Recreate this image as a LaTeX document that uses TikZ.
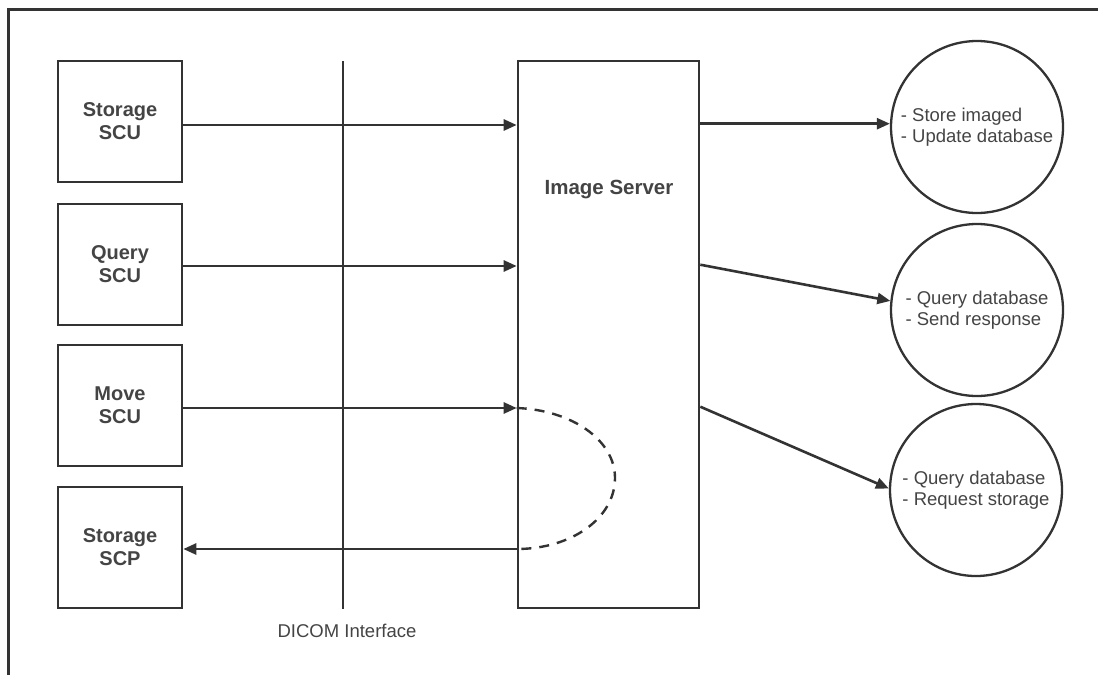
\documentclass[tikz,border=0pt]{standalone}
\usepackage{fontspec}
\setmainfont{Liberation Sans}
\usetikzlibrary{arrows.meta,calc}
\definecolor{ln}{HTML}{333333}
\definecolor{tx}{HTML}{444444}
\begin{document}
\begin{tikzpicture}[x=1pt,y=-1pt,
  unit/.style={draw=ln, line width=2.6pt, minimum width=124pt, minimum height=121pt, inner sep=0pt,
    font=\bfseries\fontsize{20}{23}\selectfont, text=tx, align=center},
  server/.style={draw=ln, line width=2.6pt, minimum width=181pt, minimum height=547pt, inner sep=0pt},
  proc/.style={circle, draw=ln, line width=2.3pt, minimum size=172pt, inner sep=0pt,
    font=\fontsize{18.5}{21.5}\selectfont, text=tx, align=left},
  lbl/.style={text=tx, inner sep=0pt},
  link/.style={draw=ln, line width=2.6pt, -{Triangle[length=13pt,width=11pt]}},
  ret/.style={draw=ln, line width=2.4pt, dash pattern=on 10pt off 8pt}
]
\useasboundingbox (0,0) rectangle (1098,675);
% frame
\draw[ln, line width=3pt] (1098,9) -- (8,9) -- (8,675);
% left units
\node[unit] (scu1) at (120,121.5) {Storage\\SCU};
\node[unit] (qscu) at (120,264.5) {Query\\SCU};
\node[unit] (mscu) at (120,405.5) {Move\\SCU};
\node[unit] (scp)  at (120,547.5) {Storage\\SCP};
% image server
\node[server] (srv) at (608.5,334.5) {};
\node[lbl, font=\bfseries\fontsize{20.5}{23}\selectfont] (srvlbl) at (609,190) {Image Server};
% DICOM interface line
\coordinate (dtop) at (343,61);
\coordinate (dbot) at (343,609);
\draw[ln, line width=2.6pt] (dtop) -- (dbot);
\node[lbl, font=\fontsize{18.5}{22}\selectfont] (dlbl) at (347,631) {DICOM Interface};
% arrows to server
\coordinate (a1) at ([yshift=-3.5pt]scu1.east);
\coordinate (a2) at ([yshift=-1.5pt]qscu.east);
\coordinate (a3) at ([yshift=-2.5pt]mscu.east);
\coordinate (a4) at ([yshift=-1.5pt]scp.east);
\draw[link] (a1) -- (a1 -| srv.west);
\draw[link] (a2) -- (a2 -| srv.west);
\draw[link] (a3) -- (a3 -| srv.west);
\coordinate (rin) at (a3 -| srv.west);
\coordinate (rout) at (a4 -| srv.west);
\draw[link] (rout) -- (a4);
\draw[ret] (rin) .. controls +(55,2) and +(0,-38) .. (615,478) .. controls +(0,40) and +(55,0) .. (rout);
% circles
\node[proc] (c1) at (977,127) {- Store imaged\\- Update database};
\node[proc] (c2) at (977,310) {- Query database\\- Send response};
\node[proc] (c3) at (976,490) {- Query database\\- Request storage};
\path (srv.north east) ++(0,64) coordinate (o1);
\path (srv.north east) ++(0,205) coordinate (o2);
\path (srv.north east) ++(0,347) coordinate (o3);
\draw[link] (o1) -- (o1 -| c1.west);
\draw[link] (o2) -- (c2.174);
\draw[link] (o3) -- (c3.179);
\end{tikzpicture}
\end{document}
